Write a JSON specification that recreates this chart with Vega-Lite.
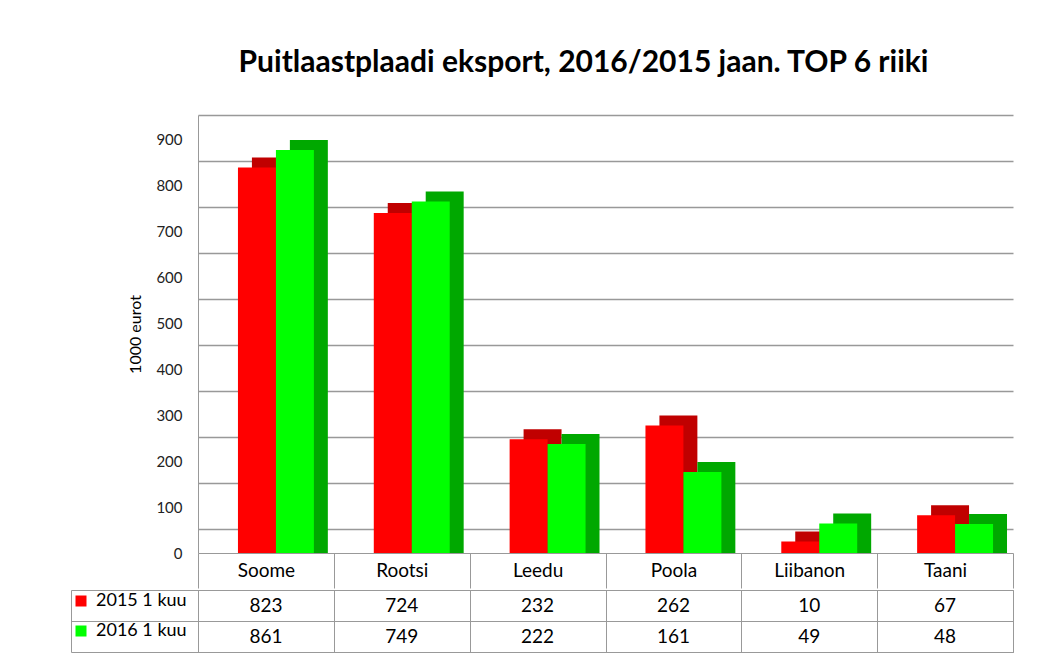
{
 "$schema": "https://vega.github.io/schema/vega-lite/v6.json",
 "background": "white",
 "padding": {"left": 70, "top": 48, "right": 40, "bottom": 0},
 "config": {"font": "Lato", "view": {"stroke": null}},
 "data": {"values": [
  {"country": "Soome", "series": "2015 1 kuu", "value": 823},
  {"country": "Soome", "series": "2016 1 kuu", "value": 861},
  {"country": "Rootsi", "series": "2015 1 kuu", "value": 724},
  {"country": "Rootsi", "series": "2016 1 kuu", "value": 749},
  {"country": "Leedu", "series": "2015 1 kuu", "value": 232},
  {"country": "Leedu", "series": "2016 1 kuu", "value": 222},
  {"country": "Poola", "series": "2015 1 kuu", "value": 262},
  {"country": "Poola", "series": "2016 1 kuu", "value": 161},
  {"country": "Liibanon", "series": "2015 1 kuu", "value": 10},
  {"country": "Liibanon", "series": "2016 1 kuu", "value": 49},
  {"country": "Taani", "series": "2015 1 kuu", "value": 67},
  {"country": "Taani", "series": "2016 1 kuu", "value": 48}
 ]},
 "spacing": 0,
 "vconcat": [
  {
   "width": 815,
   "height": 438,
   "title": {"text": "Puitlaastplaadi eksport, 2016/2015 jaan. TOP 6 riiki", "fontSize": 30, "fontWeight": "bold", "font": "Lato", "offset": 37, "dx": -22, "color": "black"},
   "encoding": {
    "x": {"field": "country", "type": "nominal", "sort": ["Soome", "Rootsi", "Leedu", "Poola", "Liibanon", "Taani"],
      "scale": {"paddingInner": 0, "paddingOuter": 0},
      "axis": {"title": null, "labelAngle": 0, "tickBand": "extent", "tickSize": 35, "tickColor": "#999", "domainColor": "#999", "labelPadding": -27, "labelFontSize": 19, "labelColor": "black", "labelFont": "Lato"}}
   },
   "layer": [
    {"mark": {"type": "tick", "opacity": 0},
     "encoding": {
      "y": {"field": "value", "type": "quantitative", "scale": {"domain": [-52.2, 900], "nice": false},
        "axis": {"orient": "left", "values": [0, 100, 200, 300, 400, 500, 600, 700, 800, 900], "labels": false, "ticks": false, "domain": false, "title": null, "grid": true, "gridColor": "#999", "gridWidth": 1.3}}}},
    {"mark": {"type": "bar", "yOffset": -17},
     "encoding": {
      "xOffset": {"field": "series", "type": "nominal", "scale": {"paddingInner": 0, "paddingOuter": 0.789, "align": 0.9}},
      "y": {"field": "value", "type": "quantitative", "stack": null, "scale": {"domain": [0, 952.2], "nice": false}, "axis": null},
      "color": {"condition": {"test": "datum.series == '2015 1 kuu'", "value": "#C00000"}, "value": "#00A800"}}},
    {"mark": {"type": "bar", "yOffset": -7},
     "encoding": {
      "xOffset": {"field": "series", "type": "nominal", "scale": {"paddingInner": 0, "paddingOuter": 0.789, "align": 0.667}},
      "y": {"field": "value", "type": "quantitative", "stack": null, "scale": {"domain": [0, 952.2], "nice": false},
        "axis": {"orient": "left", "values": [0, 100, 200, 300, 400, 500, 600, 700, 800, 900], "title": "1000 eurot", "titleFontSize": 16, "titleFontWeight": "normal", "titleFont": "Lato", "titleColor": "black", "titlePadding": 12, "ticks": false, "labelPadding": 16, "labelFontSize": 15, "labelColor": "#222", "labelFont": "Lato", "domainColor": "#999", "grid": false}},
      "color": {"condition": {"test": "datum.series == '2015 1 kuu'", "value": "#FF0000"}, "value": "#00FF00"}}}
   ],
   "resolve": {"scale": {"y": "independent", "xOffset": "independent"}, "axis": {"y": "independent"}}
  },
  {
   "width": 815,
   "height": 62,
   "view": {"stroke": "#999"},
   "encoding": {
    "x": {"field": "country", "type": "nominal", "sort": ["Soome", "Rootsi", "Leedu", "Poola", "Liibanon", "Taani"],
      "scale": {"paddingInner": 0, "paddingOuter": 0},
      "axis": {"labels": false, "ticks": false, "domain": false, "title": null, "grid": true, "gridColor": "#999", "tickBand": "extent"}}
   },
   "layer": [
    {"mark": {"type": "text", "fontSize": 19, "font": "Lato", "color": "black"},
     "encoding": {
      "y": {"field": "series", "type": "nominal", "scale": {"paddingInner": 0, "paddingOuter": 0},
        "axis": {"orient": "left", "labels": false, "title": null, "tickBand": "extent", "tickSize": 127, "tickColor": "#999", "domainColor": "#999", "grid": true, "gridColor": "#999"}},
      "text": {"field": "value", "type": "quantitative"}}},
    {"mark": {"type": "square", "opacity": 0},
     "encoding": {
      "y": {"field": "series", "type": "nominal", "scale": {"paddingInner": 0, "paddingOuter": 0},
        "axis": {"orient": "left", "offset": 127, "labels": false, "ticks": false, "grid": false, "title": null, "domainColor": "#999"}},
      "color": {"field": "series", "type": "nominal",
       "scale": {"domain": ["2015 1 kuu", "2016 1 kuu"], "range": ["#FF0000", "#00FF00"]},
       "legend": {"orient": "none", "legendX": -126, "legendY": 477, "title": null, "symbolType": "square", "symbolSize": 121, "symbolOpacity": 1, "symbolStrokeWidth": 0, "labelFontSize": 18, "labelFont": "Lato", "labelColor": "black", "labelOffset": 6, "rowPadding": 12}}}}
   ],
   "resolve": {"axis": {"y": "independent"}}
  }
 ]
}
